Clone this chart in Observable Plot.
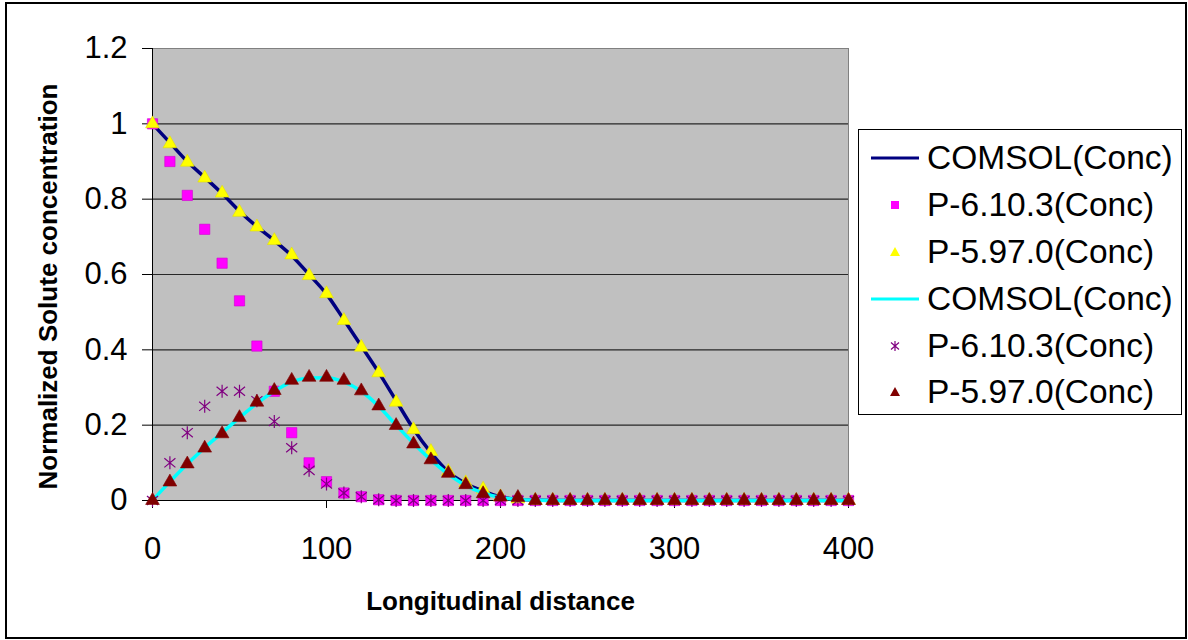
<!DOCTYPE html>
<html><head><meta charset="utf-8">
<script src="https://cdn.jsdelivr.net/npm/d3@7"></script>
<script src="https://cdn.jsdelivr.net/npm/@observablehq/plot@0.6"></script>
<style>
body{margin:0;background:#fff;font-family:"Liberation Sans",Arial,sans-serif;}
#wrap{position:relative;width:1188px;height:640px;overflow:hidden;background:#fff}
#chart{position:absolute;left:0;top:0}
#border{position:absolute;left:5px;top:2px;width:1178px;height:633px;border:2px solid #000;pointer-events:none}
#legend{position:absolute;left:858px;top:129px;width:322px;height:284px;border:1px solid #000;background:#fff}
.row{position:absolute;left:0;width:322px;height:40px}
.row svg{position:absolute;left:10px;top:0}
.row span{position:absolute;left:68px;top:0;line-height:40px;font-size:33.5px;color:#000;white-space:nowrap}
</style>
</head><body>
<div id="wrap"><div id="chart"></div><div id="legend"></div><div id="border"></div></div>
<script>
// ---- data ----
const distance = [0,10,20,30,40,50,60,70,80,90,100,110,120,130,140,150,160,170,180,190,200,
  210,220,230,240,250,260,270,280,290,300,310,320,330,340,350,360,370,380,390,400];
const comsol1 = [1.0,0.95,0.90,0.858,0.815,0.768,0.727,0.69,0.65,0.60,0.548,0.48,0.41,0.34,0.265,0.19,0.127,0.076,0.045,0.025,0.01,
  0.003,0.001,0,0,0,0,0,0,0,0,0,0,0,0,0,0,0,0,0,0];
const p6_1 = [1.0,0.90,0.81,0.72,0.63,0.53,0.41,0.29,0.18,0.10,0.05,0.02,0.01,0.002,0,0,0,0,0,0,0,
  0,0,0,0,0,0,0,0,0,0,0,0,0,0,0,0,0,0,0,0];
const p5_1 = [1.0,0.947,0.898,0.856,0.816,0.765,0.726,0.69,0.652,0.597,0.549,0.478,0.407,0.339,0.261,0.188,0.13,0.077,0.047,0.03,0.01,
  0.004,0,0,0,0,0,0,0,0,0,0,0,0,0,0,0,0,0,0,0];
const comsol2 = [0,0.05,0.097,0.14,0.18,0.22,0.258,0.29,0.315,0.325,0.326,0.315,0.29,0.25,0.2,0.152,0.108,0.07,0.04,0.02,0.008,
  0.003,0.001,0,0,0,0,0,0,0,0,0,0,0,0,0,0,0,0,0,0];
const p6_2 = [0,0.10,0.18,0.25,0.29,0.29,0.265,0.21,0.14,0.08,0.044,0.02,0.01,0.002,0,0,0,0,0,0,0,
  0,0,0,0,0,0,0,0,0,0,0,0,0,0,0,0,0,0,0,0];
const p5_2 = [0,0.049,0.097,0.139,0.177,0.22,0.261,0.292,0.319,0.327,0.327,0.319,0.291,0.251,0.199,0.15,0.108,0.072,0.042,0.018,0.009,
  0.008,0,0,0,0,0,0,0,0,0,0,0,0,0,0,0,0,0,0,0];
const xTicks = [0,100,200,300,400];
const yTicks = [0,0.2,0.4,0.6,0.8,1.0,1.2];
const legendNames = ["COMSOL(Conc)","P-6.10.3(Conc)","P-5.97.0(Conc)","COMSOL(Conc)","P-6.10.3(Conc)","P-5.97.0(Conc)"];
const xTitle = "Longitudinal distance";
const yTitle = "Normalized Solute concentration";

const rows = ys => distance.map((x,i)=>({x, y: ys[i]}));

const star = {
  draw(ctx, size) {
    const r = Math.sqrt(size / Math.PI);
    const a = r * 0.85, b = r * 0.7;
    ctx.moveTo(0, -r); ctx.lineTo(0, r);
    ctx.moveTo(-a, -b); ctx.lineTo(a, b);
    ctx.moveTo(-a, b); ctx.lineTo(a, -b);
  }
};

const chart = Plot.plot({
  width: 1188, height: 640,
  marginLeft: 152, marginRight: 340, marginTop: 48, marginBottom: 140,
  style: {fontFamily: '"Liberation Sans", Arial, sans-serif', fontSize: "31px", color: "#000", background: "transparent"},
  x: {domain: [0, 400]},
  y: {domain: [0, 1.2]},
  marks: [
    Plot.frame({fill: "#c0c0c0", stroke: "#808080"}),
    Plot.gridY(yTicks.slice(1,-1), {stroke: "#000", strokeOpacity: 0.8, strokeWidth: 1.2}),
    Plot.ruleY([0], {stroke: "#000"}),
    Plot.ruleX([0], {stroke: "#000"}),
    Plot.axisX({ticks: xTicks, tickSize: 8, tickPadding: 28, tickFormat: d => String(d), label: null, fontSize: 31}),
    Plot.axisY({ticks: yTicks, tickSize: 10, tickPadding: 15, tickFormat: d => String(+d.toFixed(1)), label: null, fontSize: 31}),
    Plot.line(rows(comsol1), {x: "x", y: "y", stroke: "#000080", strokeWidth: 3.5, curve: "monotone-x"}),
    Plot.dot(rows(p6_1), {x: "x", y: "y", symbol: "square", r: 5.8, fill: "#ff00ff", stroke: "#d000d0", strokeWidth: 0.6}),
    Plot.dot(rows(p5_1), {x: "x", y: "y", symbol: "triangle", r: 5.1, fill: "#ffff00", stroke: "#e0e000", strokeWidth: 0.6}),
    Plot.line(rows(comsol2), {x: "x", y: "y", stroke: "#00ffff", strokeWidth: 3.5, curve: "monotone-x"}),
    Plot.dot(rows(p6_2), {x: "x", y: "y", symbol: star, r: 6.5, stroke: "#800080", strokeWidth: 1.2, fill: "none"}),
    Plot.dot(rows(p5_2), {x: "x", y: "y", symbol: "triangle", r: 5.1, fill: "#800000", stroke: "#800000", strokeWidth: 0.6}),
    Plot.text([xTitle], {frameAnchor: "bottom", dy: 101, lineAnchor: "middle", textAnchor: "middle", fontSize: 26, fontWeight: "bold", fill: "#000"}),
    Plot.text([yTitle], {frameAnchor: "left", dx: -104, dy: 12, rotate: -90, lineAnchor: "middle", textAnchor: "middle", fontSize: 26, fontWeight: "bold", fill: "#000"})
  ]
});
document.getElementById("chart").appendChild(chart);

// ---- legend ----
const legendKinds = [
  {type: "line", color: "#000080"},
  {type: "square", color: "#ff00ff"},
  {type: "triangle", color: "#ffff00"},
  {type: "line", color: "#00ffff"},
  {type: "star", color: "#800080"},
  {type: "triangle", color: "#800000"}
];
const legendCenters = [28, 75, 122, 169, 216, 262];
const legend = document.getElementById("legend");
legendNames.forEach((name, i) => {
  const k = legendKinds[i];
  const row = document.createElement("div");
  row.className = "row";
  row.style.top = (legendCenters[i] - 20) + "px";
  let sw = "";
  if (k.type === "line") sw = `<line x1="2" x2="50" y1="20" y2="20" stroke="${k.color}" stroke-width="3"/>`;
  else if (k.type === "square") sw = `<rect x="22" y="16" width="8" height="8" fill="${k.color}"/>`;
  else if (k.type === "triangle") sw = `<path d="M26,15 L31,24 L21,24 Z" fill="${k.color}"/>`;
  else sw = `<path d="M26,15V25M22,16.5L30,23.5M22,23.5L30,16.5" stroke="${k.color}" stroke-width="1.2" fill="none"/>`;
  row.innerHTML = `<svg width="52" height="40">${sw}</svg><span>${name}</span>`;
  legend.appendChild(row);
});
</script>
</body></html>
